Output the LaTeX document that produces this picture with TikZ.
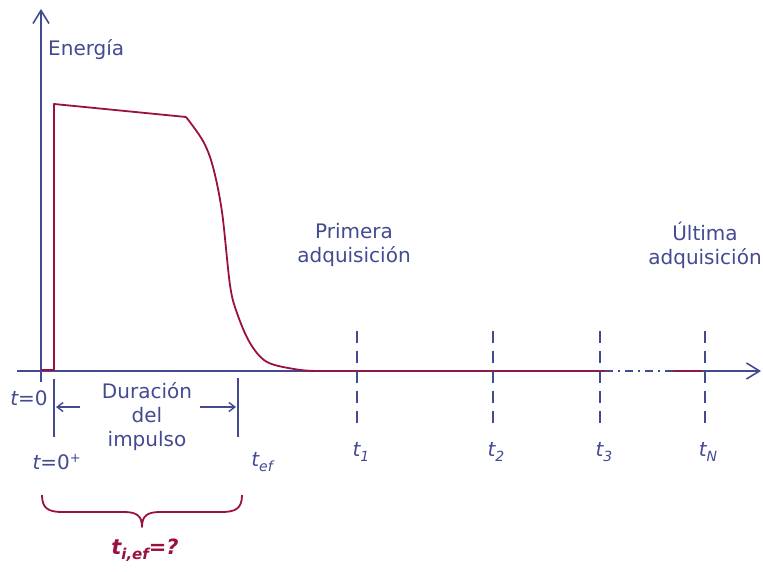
\documentclass[tikz,border=0pt]{standalone}
\usepackage{fontspec}
\setmainfont{DejaVu Sans}
\usetikzlibrary{arrows.meta}
\definecolor{axblue}{HTML}{434A92}
\definecolor{curvered}{HTML}{9A1042}
\begin{document}
\begin{tikzpicture}[x=1pt,y=-1pt,
  axis/.style={draw=axblue,line width=1.8pt},
  curve/.style={draw=curvered,line width=1.8pt,line join=round},
  vdash/.style={draw=axblue,line width=2.2pt,dash pattern=on 12pt off 8pt},
  lbl/.style={text=axblue,font=\fontsize{20}{24}\selectfont,inner sep=0pt},
  barb/.style={-{Straight Barb[length=13pt,width=16pt,line width=1.6pt]}}]
\useasboundingbox (0,0) rectangle (763,572);
% coordinates
\coordinate (ybot) at (41,382);
\coordinate (ytop) at (41,9);
\coordinate (xl) at (17,371);
\coordinate (xa) at (605,371);
\coordinate (xb) at (672,371);
\coordinate (xr) at (761,371);
% axes
\draw[axis,barb] (ybot) -- (ytop);
\draw[axis] (xl) -- (xa);
\draw[draw=axblue,line width=1.8pt,dash pattern=on 8pt off 5pt on 2pt off 5pt] (xa) -- (xb);
\draw[axis,barb] (xb) -- (xr);
% red curve
\draw[curve] (41,370) -- (54,370) -- (54,104) -- (186,117)
  plot[smooth,tension=0.55] coordinates {(186,117) (203,141) (213,167) (222,212) (230,285) (237,313) (250,343) (267,362) (297,369.5) (317,371)};
\draw[curvered,line width=1.8pt,opacity=0.85] (317,371) -- (605,371);
\draw[curvered,line width=1.8pt,opacity=0.85] (673,371) -- (702,371);
% dashed acquisition lines
\foreach \n/\x in {d1/357,d2/493,d3/600,dN/705}{
  \coordinate (\n t) at (\x,331);
  \coordinate (\n b) at (\x,426);
  \draw[vdash] (\n t) -- (\n b);
}
% ticks
\coordinate (tk1t) at (54,379);
\coordinate (tk1b) at (54,437);
\coordinate (tk2t) at (238,378);
\coordinate (tk2b) at (238,437);
\draw[axis] (tk1t) -- (tk1b);
\draw[axis] (tk2t) -- (tk2b);
\coordinate (a1s) at (80,407);
\coordinate (a1e) at (56,407);
\coordinate (a2s) at (200,407);
\coordinate (a2e) at (236,407);
\draw[draw=axblue,line width=1.6pt,-{Straight Barb[length=6pt,width=9pt,line width=1.4pt]}] (a1s) -- (a1e);
\draw[draw=axblue,line width=1.6pt,-{Straight Barb[length=6pt,width=9pt,line width=1.4pt]}] (a2s) -- (a2e);
% labels
\node[lbl,anchor=west] (energia) at (48,50) {Energía};
\node[lbl,align=center] (primera) at (354,245) {Primera\\adquisición};
\node[lbl,align=center] (ultima) at (705,245) {Última\\adquisición};
\node[lbl] (t0) at (29,398) {\itshape t\upshape =0};
\node[lbl,align=center] (dur) at (147,417) {Duración\\del\\impulso};
\node[lbl] (t0p) at (57,462) {\itshape t\upshape =0$^{\mbox{\fontsize{13}{13}\selectfont +}}$};
\node[lbl] (tef) at (262,462) {\itshape t\raisebox{-5pt}{\fontsize{14}{14}\selectfont ef}};
\node[lbl] (t1) at (361,452) {\itshape t\raisebox{-5pt}{\fontsize{14}{14}\selectfont 1}};
\node[lbl] (t2) at (496,452) {\itshape t\raisebox{-5pt}{\fontsize{14}{14}\selectfont 2}};
\node[lbl] (t3) at (604,452) {\itshape t\raisebox{-5pt}{\fontsize{14}{14}\selectfont 3}};
\node[lbl] (tN) at (708,452) {\itshape t\raisebox{-5pt}{\fontsize{14}{14}\selectfont N}};
% brace
\coordinate (bl) at (42,495);
\coordinate (br) at (242,495);
\coordinate (bm) at (142,527);
\draw[curve] (bl) .. controls (42,508) and (48,512) .. (62,512) -- (124,512)
  .. controls (137,512) and (142,516) .. (bm)
  .. controls (142,516) and (147,512) .. (160,512) -- (222,512)
  .. controls (236,512) and (242,508) .. (br);
\node[inner sep=0pt,text=curvered,font=\fontsize{21}{24}\selectfont\bfseries\itshape] (tief) at (145,550)
  {t\raisebox{-5pt}{\fontsize{15}{15}\selectfont i,ef}=?};
\end{tikzpicture}
\end{document}
